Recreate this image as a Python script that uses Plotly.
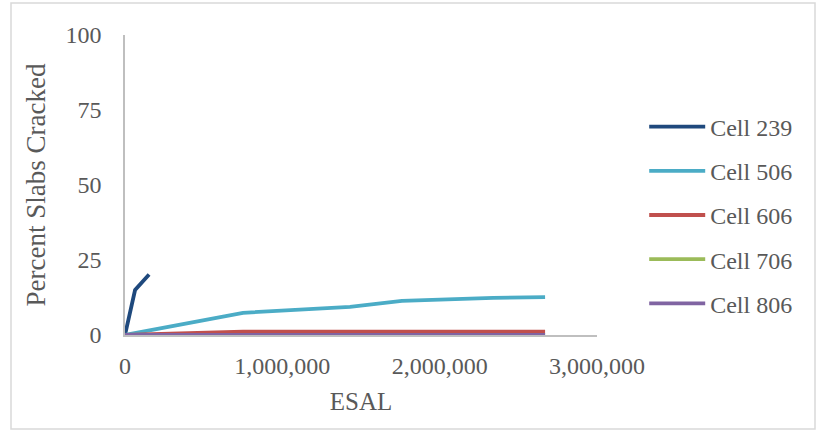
import plotly.graph_objects as go

# ESAL loading (x) and percent of slabs cracked (y) for each test cell
esal_239 = [0, 30000, 64000, 153000]
cracked_239 = [0, 7, 15, 20.2]

esal_cells = [0, 750000, 1430000, 1760000, 2340000, 2670000]
cracked_506 = [0, 7.4, 9.4, 11.4, 12.4, 12.6]
cracked_606 = [0, 1.1, 1.1, 1.1, 1.1, 1.1]
cracked_706 = [0, 0, 0, 0, 0, 0]
cracked_806 = [0, 0, 0, 0, 0, 0]

x_ticks = [0, 1000000, 2000000, 3000000]
x_tick_text = ["0", "1,000,000", "2,000,000", "3,000,000"]
y_ticks = [0, 25, 50, 75, 100]

series = [
    ("Cell 239", esal_239, cracked_239, "#1F497D"),
    ("Cell 506", esal_cells, cracked_506, "#4BACC6"),
    ("Cell 606", esal_cells, cracked_606, "#C0504D"),
    ("Cell 706", esal_cells, cracked_706, "#9BBB59"),
    ("Cell 806", esal_cells, cracked_806, "#8064A2"),
]

FONT = "Liberation Serif"
TEXT = "#595959"
AXIS = "#BFBFBF"

fig = go.Figure()
for name, xs, ys, color in series:
    fig.add_trace(go.Scatter(
        x=xs, y=ys, name=name, mode="lines",
        line=dict(color=color, width=3.8),
        legendgroup=name, cliponaxis=False,
    ))

fig.update_layout(
    width=817, height=433,
    margin=dict(l=125, r=220, t=35, b=98),
    paper_bgcolor="white", plot_bgcolor="white",
    font=dict(family=FONT, size=24, color=TEXT),
    showlegend=True,
    legend=dict(
        x=1.1, xanchor="left", y=0.4, yanchor="middle",
        font=dict(family=FONT, size=24, color=TEXT),
        itemwidth=56, tracegroupgap=10, bgcolor="rgba(0,0,0,0)",
    ),
    xaxis=dict(
        range=[0, 3000000], tickvals=x_ticks, ticktext=x_tick_text,
        showgrid=False, zeroline=False, showline=True,
        linecolor=AXIS, linewidth=1.5, ticks="",
        ticklabelstandoff=8,
        title=dict(text="ESAL", standoff=15, font=dict(size=25)),
    ),
    yaxis=dict(
        range=[0, 100], tickvals=y_ticks,
        showgrid=False, zeroline=False, showline=True,
        linecolor=AXIS, linewidth=1.5, ticks="",
        ticklabelstandoff=17,
        title=dict(text="Percent Slabs Cracked", standoff=12, font=dict(size=27)),
    ),
    shapes=[dict(
        type="rect", xref="paper", yref="paper",
        x0=(11 - 125) / 472, x1=(815 - 125) / 472,
        y0=(335 - 429) / 300, y1=(335 - 3) / 300,
        line=dict(color="#D9D9D9", width=1.5), fillcolor="rgba(0,0,0,0)",
        layer="below",
    )],
)

fig.write_html("out.html")
